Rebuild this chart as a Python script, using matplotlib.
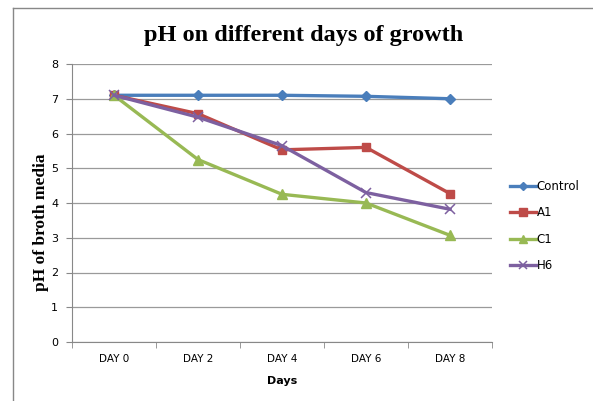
import matplotlib
matplotlib.use('Agg')
import matplotlib.pyplot as plt
from matplotlib.lines import Line2D
import numpy as np

days = ['DAY 0', 'DAY 2', 'DAY 4', 'DAY 6', 'DAY 8']
control = [7.1, 7.1, 7.1, 7.07, 7.0]
a1 = [7.1, 6.57, 5.53, 5.6, 4.27]
c1 = [7.1, 5.25, 4.25, 4.0, 3.07]
h6 = [7.1, 6.47, 5.65, 4.3, 3.82]

W, H = 593, 401
fig = plt.figure(figsize=(W / 100, H / 100), dpi=100)
ax = fig.add_axes([72 / W, 1 - 342 / H, 420 / W, 278 / H])

x = np.arange(len(days))
ax.plot(x, control, color='#4A7EBB', lw=2.4, marker='D', ms=5, label='Control')
ax.plot(x, a1, color='#BE4B48', lw=2.4, marker='s', ms=6, label='A1')
ax.plot(x, c1, color='#98B954', lw=2.4, marker='^', ms=6.5, label='C1')
ax.plot(x, h6, color='#7D60A0', lw=2.4, marker='x', ms=6.5, mew=1.1, label='H6')

ax.set_xlim(-0.5, len(days) - 0.5)
ax.set_ylim(0, 8)
ax.set_yticks(range(0, 9))
ax.set_xticks(x)
ax.set_xticklabels(days)
ax.set_xticks(np.arange(-0.5, len(days)), minor=True)
ax.tick_params(axis='x', which='major', length=0, labelsize=7.5, pad=9)
ax.tick_params(axis='x', which='minor', length=4, color='#888888', direction='out')
ax.tick_params(axis='y', length=4, color='#888888', labelsize=8, direction='out', pad=6)
ax.grid(axis='y', color='#9a9a9a', lw=0.9)
ax.set_axisbelow(True)
for s in ['top', 'right']:
    ax.spines[s].set_visible(False)
ax.spines['left'].set_color('#888888')
ax.spines['bottom'].set_color('#888888')

fig.text(304 / W, 1 - 35 / H, 'pH on different days of growth', fontsize=17.5,
         fontweight='bold', family='Liberation Serif', ha='center', va='center')
fig.text(41 / W, 1 - 222 / H, 'pH of broth media', fontsize=12.5, fontweight='bold',
         family='Liberation Serif', rotation=90, ha='center', va='center')
ax.set_xlabel('Days', fontsize=8, fontweight='bold', labelpad=8)

fig.legend(loc='center left', bbox_to_anchor=(510 / W, 1 - 226 / H), frameon=False,
           fontsize=8.5, handlelength=2.2, handletextpad=0.05, labelspacing=1.15,
           borderaxespad=0, borderpad=0, markerscale=0.9)

# outer frame (top and left edges only visible)
fig.add_artist(Line2D([13 / W, 1], [1 - 8 / H, 1 - 8 / H], transform=fig.transFigure,
                      color='#888888', lw=1))
fig.add_artist(Line2D([13 / W, 13 / W], [1 - 8 / H, 0], transform=fig.transFigure,
                      color='#888888', lw=1))

fig.savefig('out.png', dpi=100)
